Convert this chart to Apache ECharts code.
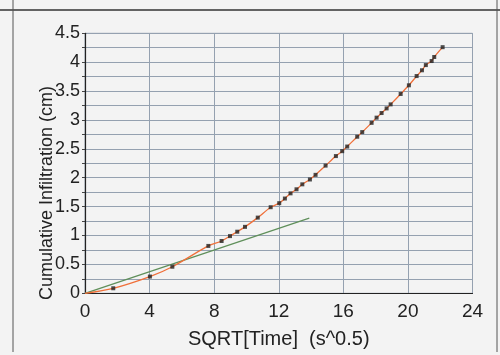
<!DOCTYPE html>
<html><head><meta charset="utf-8">
<script src="https://cdn.jsdelivr.net/npm/echarts@6/dist/echarts.min.js"></script>
<style>html,body{margin:0;padding:0;background:#f3f3f3;}#c{width:500px;height:355px;}</style>
</head><body><div id="c"></div>
<script>
// SQRT(time) values (s^0.5) and cumulative infiltration (cm)
var sqrtTime = [1.75, 4.02, 5.41, 7.64, 8.46, 8.98, 9.43, 9.91, 10.70, 11.50, 12.03, 12.38, 12.73, 13.10, 13.46, 13.93, 14.28, 14.90, 15.54, 15.93, 16.24, 16.86, 17.17, 17.75, 18.06, 18.37, 18.68, 18.93, 19.55, 20.06, 20.54, 20.87, 21.11, 21.47, 21.63, 22.15];
var infiltration = [0.087, 0.29, 0.46, 0.82, 0.905, 0.99, 1.066, 1.15, 1.31, 1.49, 1.56, 1.64, 1.73, 1.80, 1.886, 1.97, 2.05, 2.21, 2.375, 2.46, 2.54, 2.71, 2.79, 2.95, 3.04, 3.12, 3.20, 3.27, 3.45, 3.60, 3.76, 3.86, 3.95, 4.02, 4.09, 4.26];
// early-time linear fit line end points
var fitX = [0, 13.89];
var fitY = [0, 1.30];
var xTicks = [0, 4, 8, 12, 16, 20, 24];
var yTicks = [0, 0.5, 1, 1.5, 2, 2.5, 3, 3.5, 4, 4.5];
var xTitle = 'SQRT[Time]  (s^0.5)';
var yTitle = 'Cumulative Infiltration (cm)';

var pts = sqrtTime.map(function (x, i) { return [x, infiltration[i]]; });
var curve = [[0, 0]].concat(pts);
var fit = fitX.map(function (x, i) { return [x, fitY[i]]; });

var chart = echarts.init(document.getElementById('c'), null, {renderer: 'canvas'});
var font = 'Liberation Sans, Arial, sans-serif';
chart.setOption({
  backgroundColor: '#f3f3f3',
  animation: false,
  grid: {left: 85, right: 27.5, top: 33.3, bottom: 61.7, show: true, borderColor: '#9aa6b4', borderWidth: 1},
  xAxis: {
    type: 'value', min: 0, max: 24, interval: 4,
    name: xTitle, nameLocation: 'middle', nameGap: 36,
    nameTextStyle: {fontFamily: font, fontSize: 20, color: '#222'},
    axisLine: {show: true, onZero: false, lineStyle: {color: '#222', width: 1.2}},
    axisTick: {show: false},
    axisLabel: {fontFamily: font, fontSize: 19, color: '#222', margin: 9,
      formatter: function (v) { return xTicks.indexOf(v) >= 0 ? String(v) : ''; }},
    splitLine: {show: true, lineStyle: {color: '#95a1b0', width: 1}}
  },
  yAxis: {
    type: 'value', min: 0, max: 4.5, interval: 0.25,
    axisLine: {show: true, onZero: false, lineStyle: {color: '#222', width: 1.2}},
    axisTick: {show: true, inside: false, length: 3, lineStyle: {color: '#444'}},
    axisLabel: {fontFamily: font, fontSize: 18, color: '#222', margin: 5,
      formatter: function (v) { var r = Math.round(v * 100) / 100; return yTicks.indexOf(r) >= 0 ? String(r) : ''; }},
    splitLine: {show: true, lineStyle: {color: '#95a1b0', width: 1}}
  },
  graphic: [
    {type: 'line', shape: {x1: 0, y1: 10, x2: 500, y2: 10}, style: {stroke: '#333', lineWidth: 1.5}},
    {type: 'line', shape: {x1: 13, y1: 0, x2: 13, y2: 352}, style: {stroke: '#555', lineWidth: 1}},
    {type: 'line', shape: {x1: 497, y1: 0, x2: 497, y2: 352}, style: {stroke: '#555', lineWidth: 1}},
    {type: 'text', x: 46.7, y: 193, rotation: Math.PI / 2,
      style: {text: yTitle, fontFamily: font, fontSize: 18, fill: '#222', textAlign: 'center', textVerticalAlign: 'middle'}}
  ],
  series: [
    {type: 'line', data: fit, showSymbol: false, lineStyle: {color: '#5f8f5a', width: 1.3}, z: 2},
    {type: 'line', data: curve, smooth: 0.3, showSymbol: false, lineStyle: {color: '#f0703a', width: 1.3}, z: 3},
    {type: 'scatter', data: pts, symbol: 'rect', symbolSize: 4, itemStyle: {color: '#222'}, z: 4}
  ]
});
</script></body></html>
